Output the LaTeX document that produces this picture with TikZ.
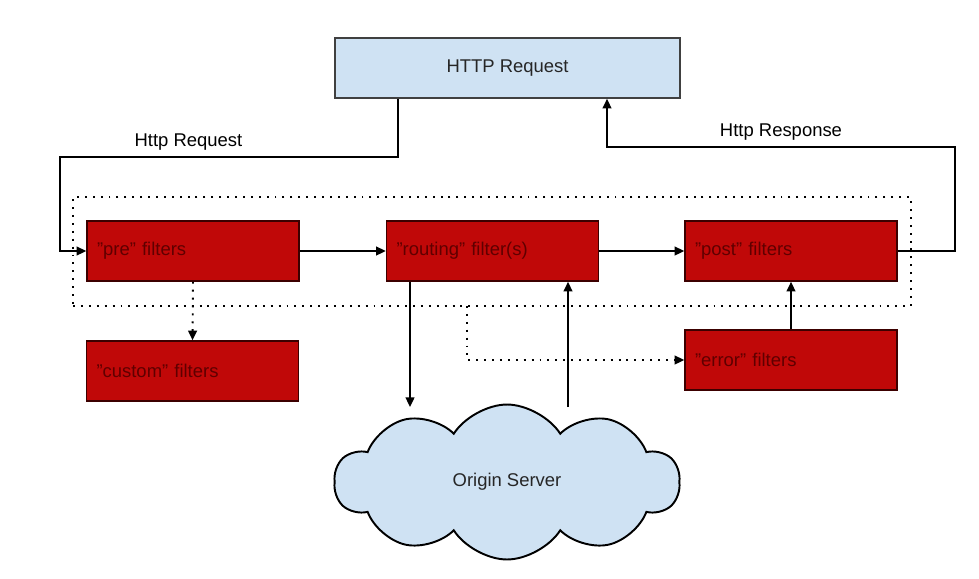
\documentclass[tikz,border=0pt]{standalone}
\usepackage{fontspec}
\setmainfont{Liberation Sans}
\usetikzlibrary{arrows.meta,shapes.symbols}
\definecolor{filterred}{RGB}{192,8,8}
\definecolor{filtertext}{RGB}{95,0,0}
\definecolor{filterline}{RGB}{60,0,0}
\definecolor{reqblue}{RGB}{207,226,243}

\begin{document}
\begin{tikzpicture}[x=0.02cm, y=-0.02cm, >={Triangle[length=5.5pt,width=5pt]},
    font=\fontsize{10.5}{12.6}\selectfont,
    filterbox/.style={rectangle, draw=filterline, line width=0.9pt, fill=filterred, text=filtertext,
        text width=3.84cm, inner xsep=0.2cm, minimum height=1.2cm, align=left},
    flow/.style={->, line width=1.1pt},
    dotflow/.style={->, line width=1.1pt, dash pattern=on 1.1pt off 3.4pt}]
\useasboundingbox (0,0) rectangle (979,578);

% Anfrage oben
\node (request) [rectangle, draw=black!75, line width=0.9pt, fill=reqblue, minimum width=6.9cm, minimum height=1.2cm, text=black!85] at (507.5,68) {HTTP Request};

% Filterkette
\node (chain) [rectangle, draw, line width=1.1pt, dash pattern=on 1.1pt off 3.4pt, minimum width=16.76cm, minimum height=2.18cm] at (492,251.5) {};
\node (pre) [filterbox] at (193,251) {"pre" filters};
\node (routing) [filterbox] at (492.5,251) {"routing" filter(s)};
\node (post) [filterbox] at (791,251) {"post" filters};

% Nebenfilter
\node (custom) [filterbox] at (192.5,371) {"custom" filters};
\node (error) [filterbox] at (791,360) {"error" filters};

% Zielserver
\node (origin) [cloud, cloud puffs=10, cloud puff arc=115, aspect=2.2, draw=black, line width=1.1pt, fill=reqblue, minimum width=6.9cm, minimum height=3.1cm, text=black!85] at (507,482) {Origin Server};

% Hilfspunkte
\coordinate (reqbend) at (398,157);
\coordinate (respbend) at (607,147);
\coordinate (down) at (410,407);
\coordinate (up) at (568,407);
\coordinate (split) at (467,306);

% Verbindungen
\draw [flow] (reqbend |- request.south) -- (reqbend) -- node[pos=0.62, above] {Http Request} (60,157) |- (pre.west);
\draw [flow] (post.east) -- (955,251) -- (955,147) -- node[above] {Http Response} (respbend) -- (respbend |- request.south);
\draw [flow] (pre) -- (routing);
\draw [flow] (routing) -- (post);
\draw [dotflow] (pre.south) -- (custom.north);
\draw [flow] (down |- routing.south) -- (down);
\draw [flow] (up) -- (up |- routing.south);
\draw [dotflow] (split) |- (error.west);
\draw [flow] (error.north) -- (post.south);
\end{tikzpicture}
\end{document}
